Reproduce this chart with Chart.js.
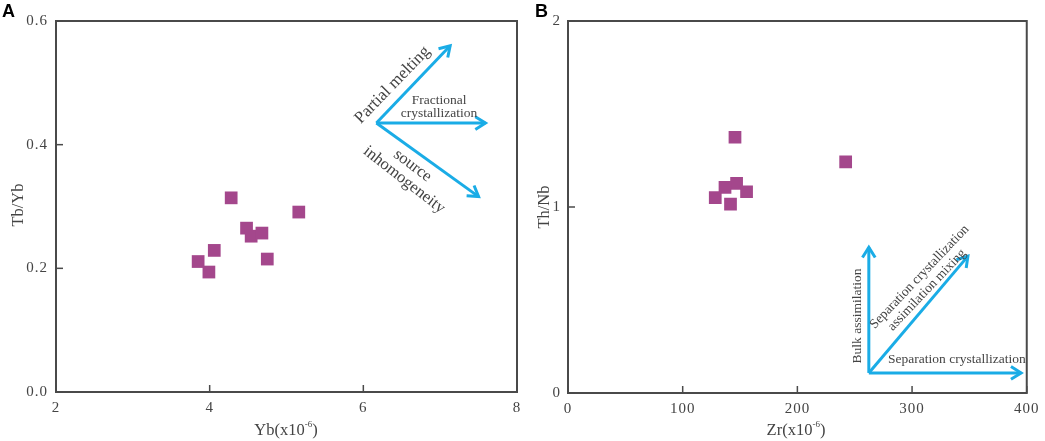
<!DOCTYPE html>
<html><head><meta charset="utf-8">
<script src="https://cdn.jsdelivr.net/npm/chart.js@4.4.1/dist/chart.umd.min.js"></script>
<style>
html,body{margin:0;padding:0;background:#fff;width:1045px;height:441px;overflow:hidden;}
.wrap{position:absolute;top:0;}
#wa{left:0;width:540px;height:441px;}
#wb{left:520px;width:525px;height:441px;}
</style></head><body>
<div id="wa" class="wrap"><canvas id="ca" width="540" height="441"></canvas></div>
<div id="wb" class="wrap"><canvas id="cb" width="525" height="441"></canvas></div>
<script>
// ---- Panel A data ----
const ybA   = [4.28, 5.16, 4.48, 4.54, 4.68, 4.06, 3.85, 3.99, 4.75];
const tbybA = [0.314, 0.291, 0.265, 0.252, 0.257, 0.229, 0.211, 0.194, 0.215];
const xTicksA = [2, 4, 6, 8];
const yTicksA = [0, 0.2, 0.4, 0.6];
// ---- Panel B data ----
const zrB   = [145.6, 242.1, 147.0, 136.9, 155.7, 128.4, 141.7];
const thnbB = [1.375, 1.243, 1.127, 1.105, 1.082, 1.050, 1.016];
const xTicksB = [0, 100, 200, 300, 400];
const yTicksB = [0, 1, 2];
// ---- trend arrows (data coordinates) ----
const arrowOriginA = [6.17, 0.435];
const arrowEndsA   = [[7.13, 0.56], [7.59, 0.435], [7.50, 0.316]];
const arrowOriginB = [262.3, 0.108];
const arrowEndsB   = [[262.3, 0.783], [348.7, 0.736], [395.1, 0.108]];
// ---- annotation texts ----
const textsA = [
  {t:'Partial melting', x:6.38, y:0.4965, a:-46, s:17},
  {t:'Fractional', x:6.985, y:0.471, a:0, s:13.5},
  {t:'crystallization', x:6.985, y:0.4505, a:0, s:13.5},
  {t:'source', x:6.64, y:0.366, a:37, s:16.5},
  {t:'inhomogeneity', x:6.53, y:0.343, a:38, s:16.5}
];
const textsB = [
  {t:'Bulk assimilation', x:252.2, y:0.414, a:-90, s:13.5},
  {t:'Separation crystallization', x:306.5, y:0.624, a:-46.5, s:13.5},
  {t:'assimilation mixing', x:313, y:0.554, a:-46.5, s:13.5},
  {t:'Separation crystallization', x:339.1, y:0.18, a:0, s:13.5}
];

const SERIF = "'Liberation Serif','Times New Roman',serif";
const SANS = "'Liberation Sans',Arial,sans-serif";
const AXIS = '#4a4a4a';
const TXT = '#444';
const CYAN = '#1aace6';
const MARK = '#a4478c';

function drawArrow(ctx, x0, y0, x1, y1) {
  const ang = Math.atan2(y1 - y0, x1 - x0);
  const L = 12, H = 0.56;
  ctx.beginPath();
  ctx.moveTo(x0, y0); ctx.lineTo(x1, y1);
  ctx.stroke();
  ctx.beginPath();
  ctx.moveTo(x1 - L * Math.cos(ang - H), y1 - L * Math.sin(ang - H));
  ctx.lineTo(x1, y1);
  ctx.lineTo(x1 - L * Math.cos(ang + H), y1 - L * Math.sin(ang + H));
  ctx.stroke();
}

function drawSupTitle(ctx, cx, base, pre, sup, post, size) {
  ctx.save();
  ctx.fillStyle = TXT;
  ctx.textBaseline = 'alphabetic';
  ctx.textAlign = 'left';
  const f1 = size + 'px ' + SERIF, f2 = Math.round(size * 0.55) + 'px ' + SERIF;
  ctx.font = f1; const w1 = ctx.measureText(pre).width, w3 = ctx.measureText(post).width;
  ctx.font = f2; const w2 = ctx.measureText(sup).width;
  let x = cx - (w1 + w2 + w3) / 2;
  ctx.font = f1; ctx.fillText(pre, x, base); x += w1;
  ctx.font = f2; ctx.fillText(sup, x, base - size * 0.5); x += w2;
  ctx.font = f1; ctx.fillText(post, x, base);
  ctx.restore();
}

function makeAnn(cfg) {
  return {
    id: 'ann',
    beforeDraw(chart) {
      if ('letterSpacing' in chart.ctx) chart.ctx.letterSpacing = '1px';
    },
    afterDraw(chart) {
      const {ctx, chartArea: a, scales: {x, y}} = chart;
      if ('letterSpacing' in ctx) ctx.letterSpacing = '0px';
      ctx.save();
      // frame
      ctx.strokeStyle = AXIS; ctx.lineWidth = 2;
      ctx.strokeRect(a.left, a.top, a.right - a.left, a.bottom - a.top);
      // inward ticks
      ctx.lineWidth = 1.5;
      x.ticks.forEach(t => {
        const px = x.getPixelForValue(t.value);
        ctx.beginPath(); ctx.moveTo(px, a.bottom); ctx.lineTo(px, a.bottom - 7); ctx.stroke();
      });
      y.ticks.forEach(t => {
        const py = y.getPixelForValue(t.value);
        ctx.beginPath(); ctx.moveTo(a.left, py); ctx.lineTo(a.left + 7, py); ctx.stroke();
      });
      // arrows
      ctx.strokeStyle = CYAN; ctx.lineWidth = 3; ctx.lineCap = 'butt'; ctx.lineJoin = 'miter';
      const ox = x.getPixelForValue(cfg.origin[0]), oy = y.getPixelForValue(cfg.origin[1]);
      cfg.ends.forEach(e => drawArrow(ctx, ox, oy, x.getPixelForValue(e[0]), y.getPixelForValue(e[1])));
      // texts
      ctx.fillStyle = TXT; ctx.textAlign = 'center'; ctx.textBaseline = 'middle';
      cfg.texts.forEach(tt => {
        ctx.save();
        ctx.translate(x.getPixelForValue(tt.x), y.getPixelForValue(tt.y));
        ctx.rotate(tt.a * Math.PI / 180);
        ctx.font = tt.s + 'px ' + SERIF;
        ctx.fillText(tt.t, 0, 0);
        ctx.restore();
      });
      // axis titles
      ctx.save();
      ctx.font = cfg.ytitleSize + 'px ' + SERIF;
      ctx.translate(cfg.ytitlePos[0], cfg.ytitlePos[1]);
      ctx.rotate(-Math.PI / 2);
      ctx.fillText(cfg.ytitle, 0, 0);
      ctx.restore();
      drawSupTitle(ctx, cfg.xtitlePos[0], cfg.xtitlePos[1], cfg.xtitle[0], cfg.xtitle[1], cfg.xtitle[2], 16.5);
      // panel letter
      ctx.font = 'bold 18px ' + SANS; ctx.textAlign = 'left'; ctx.textBaseline = 'alphabetic';
      ctx.fillStyle = '#000';
      ctx.fillText(cfg.letter, cfg.letterPos[0], cfg.letterPos[1]);
      ctx.restore();
    }
  };
}

function makeChart(id, xs, ys, xr, yr, xt, yt, yfmt, yW, xH, pad, yPad, ann) {
  return new Chart(document.getElementById(id), {
    type: 'scatter',
    data: { datasets: [{
      data: xs.map((v, i) => ({x: v, y: ys[i]})),
      pointStyle: 'rect', pointRadius: 9, pointHoverRadius: 9,
      backgroundColor: MARK, borderWidth: 0
    }]},
    options: {
      responsive: false, animation: false,
      layout: { padding: pad },
      plugins: { legend: {display: false}, tooltip: {enabled: false} },
      scales: {
        x: {
          type: 'linear', min: xr[0], max: xr[1],
          afterBuildTicks: s => { s.ticks = xt.map(v => ({value: v})); },
          afterFit: s => { s.height = xH; },
          grid: {display: false, drawTicks: false}, border: {display: false},
          ticks: {color: TXT, font: {family: SERIF, size: 15}, padding: 7, maxRotation: 0,
                  callback: v => String(v)}
        },
        y: {
          type: 'linear', min: yr[0], max: yr[1],
          afterBuildTicks: s => { s.ticks = yt.map(v => ({value: v})); },
          afterFit: s => { s.width = yW; },
          grid: {display: false, drawTicks: false}, border: {display: false},
          ticks: {color: TXT, font: {family: SERIF, size: 15}, padding: yPad,
                  callback: yfmt}
        }
      }
    },
    plugins: [makeAnn(ann)]
  });
}

makeChart('ca', ybA, tbybA, [2, 8], [0, 0.6], xTicksA, yTicksA, v => v.toFixed(1),
  56, 49, {top: 21, right: 23, left: 0, bottom: 0}, 8,
  {origin: arrowOriginA, ends: arrowEndsA, texts: textsA,
   ytitle: 'Tb/Yb', ytitleSize: 16.5, ytitlePos: [19, 205],
   xtitle: ['Yb(x10', '-6', ')'], xtitlePos: [286, 435],
   letter: 'A', letterPos: [2, 17]});

makeChart('cb', zrB, thnbB, [0, 400], [0, 2], xTicksB, yTicksB, v => String(v),
  48, 48, {top: 21, right: 17, left: 0, bottom: 0}, 7,
  {origin: arrowOriginB, ends: arrowEndsB, texts: textsB,
   ytitle: 'Th/Nb', ytitleSize: 16.5, ytitlePos: [25, 207],
   xtitle: ['Zr(x10', '-6', ')'], xtitlePos: [276, 435],
   letter: 'B', letterPos: [15, 17]});
</script>
</body></html>
